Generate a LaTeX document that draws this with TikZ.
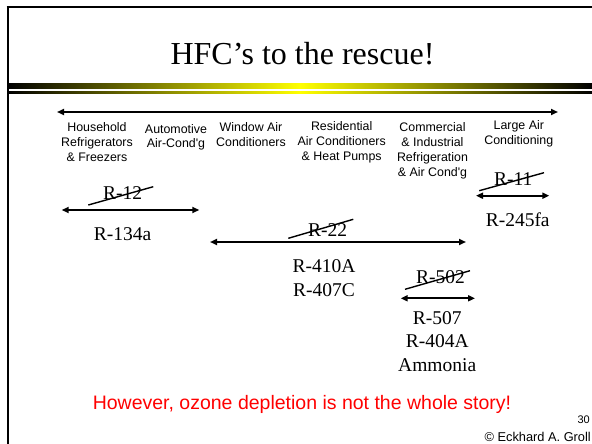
\documentclass[tikz,border=0pt]{standalone}
\usepackage{fontspec}
\setmainfont{Liberation Serif}
\setsansfont{Liberation Sans}
\usetikzlibrary{arrows.meta}
\begin{document}
\begin{tikzpicture}[x=1pt,y=-1pt,
  lbl/.style={font=\sffamily\fontsize{12.4}{15}\selectfont, align=center, inner sep=0pt, anchor=base},
  refr/.style={font=\rmfamily\fontsize{19.5}{23.4}\selectfont, align=center, inner sep=0pt, anchor=base},
  arr/.style={line width=2pt, {Triangle[length=7pt,width=6pt]}-{Triangle[length=7pt,width=6pt]}},
  strike/.style={line width=1.4pt},
  frameline/.style={line width=2pt}]
\useasboundingbox (0,0) rectangle (592,444);
\fill[white] (0,0) rectangle (592,444);
% frame
\draw[frameline] (6.5,7.5) -- (592,7.5);
\draw[frameline] (7.5,6.5) -- (7.5,444);
% gradient bars
\shade[left color=black,right color=black,middle color=yellow] (8.5,84) rectangle (592,89);
\shade[left color=black,right color=black,middle color=yellow] (8.5,91.3) rectangle (592,93.6);
% title
\node[font=\rmfamily\fontsize{32}{36}\selectfont, inner sep=0pt, anchor=base] (title) at (302.5,65) {HFC’s to the rescue!};
% main arrow
\coordinate (mL) at (57,112);
\coordinate (mR) at (558,112);
\draw[arr] (mL) -- (mR);
% categories (base anchor = baseline of last line)
\node[lbl] (house) at (97,161.7) {Household\\Refrigerators\\\& Freezers};
\node[lbl, font=\sffamily\fontsize{12.4}{14}\selectfont] (auto) at (176,147.5) {Automotive\\Air-Cond\textquotesingle g};
\node[lbl] (window) at (251,146) {Window Air\\Conditioners};
\node[lbl] (resid) at (341.7,160.5) {Residential\\Air Conditioners\\\& Heat Pumps};
\node[lbl] (comm) at (432.5,176) {Commercial\\\& Industrial\\Refrigeration\\\& Air Cond\textquotesingle g};
\node[lbl] (large) at (518.8,144.3) {Large Air\\Conditioning};
% R-12 / R-134a
\node[refr] (r12) at (122.5,199) {R-12};
\coordinate (s12a) at (88.3,205);
\coordinate (s12b) at (153.3,186.7);
\draw[strike] (s12a) -- (s12b);
\coordinate (a12L) at (61.7,210);
\coordinate (a12R) at (199.3,210);
\draw[arr] (a12L) -- (a12R);
\node[refr] (r134a) at (122.5,240) {R-134a};
% R-22
\node[refr] (r22) at (327.7,236) {R-22};
\coordinate (s22a) at (288.3,238.3);
\coordinate (s22b) at (353.3,219.3);
\draw[strike] (s22a) -- (s22b);
\coordinate (a22L) at (210,242);
\coordinate (a22R) at (466,242);
\draw[arr] (a22L) -- (a22R);
\node[refr] (r410) at (324,296.1) {R-410A\\R-407C};
% R-502
\node[refr] (r502) at (440.5,283.3) {R-502};
\coordinate (s502a) at (405,289.3);
\coordinate (s502b) at (470,270.7);
\draw[strike] (s502a) -- (s502b);
\coordinate (a502L) at (400.7,298.3);
\coordinate (a502R) at (475,298.3);
\draw[arr] (a502L) -- (a502R);
\node[refr] (r507) at (437.2,371.1) {R-507\\R-404A\\Ammonia};
% R-11
\node[refr] (r11) at (513.3,185) {R-11};
\coordinate (s11a) at (479.3,190.7);
\coordinate (s11b) at (544,172.7);
\draw[strike] (s11a) -- (s11b);
\coordinate (a11L) at (476,195.7);
\coordinate (a11R) at (549.3,195.7);
\draw[arr] (a11L) -- (a11R);
\node[refr] (r245) at (517.7,226.7) {R-245fa};
% bottom
\node[font=\sffamily\fontsize{19.5}{23}\selectfont, text=red, inner sep=0pt, anchor=base] (story) at (302,409.3) {However, ozone depletion is not the whole story!};
\node[font=\sffamily\fontsize{11}{13}\selectfont, inner sep=0pt, anchor=base east] (page) at (590,423) {30};
\node[font=\sffamily\fontsize{12.8}{15}\selectfont, inner sep=0pt, anchor=base east] (copy) at (591,441.5) {© Eckhard A. Groll};
\end{tikzpicture}
\end{document}
